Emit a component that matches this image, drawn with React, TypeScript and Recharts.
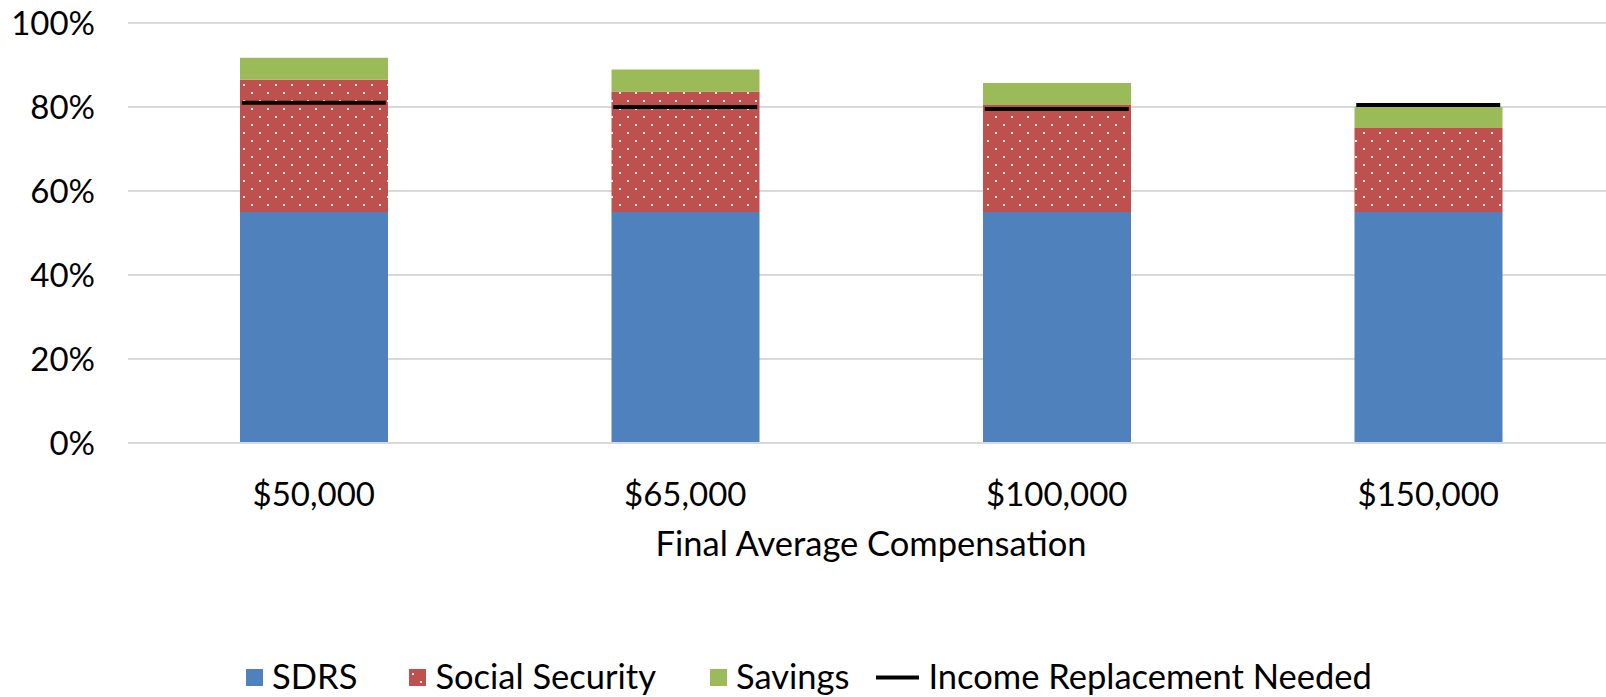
import React from 'react';
import { ComposedChart, Bar, Line, XAxis, YAxis, CartesianGrid, Legend } from 'recharts';

const categories = ['$50,000', '$65,000', '$100,000', '$150,000'];
const sdrs = [55, 55, 55, 55];
const socialSecurity = [31.5, 28.7, 25.5, 20];
const savings = [5.2, 5.2, 5.2, 5];
const replacementNeeded = [81, 80, 79.5, 80.5];
const yTicks = [0, 20, 40, 60, 80, 100];

const data = categories.map((name, i) => ({
  name,
  sdrs: sdrs[i],
  socialSecurity: socialSecurity[i],
  savings: savings[i],
  needed: replacementNeeded[i],
}));

const FONT = 'Lato, "Open Sans", sans-serif';
const BLUE = '#4F81BD';
const RED = '#C0504D';
const GREEN = '#9BBB59';

// short black segment drawn at each point, about as wide as the bar
function NeededMark(props: any) {
  const { cx, cy } = props;
  if (cx == null || cy == null) return null;
  return <line x1={cx - 72} x2={cx + 72} y1={cy} y2={cy} stroke="#000" strokeWidth={4} />;
}

function ChartLegend() {
  const item = (icon: React.ReactNode, label: string, gap: number) => (
    <div style={{ display: 'flex', alignItems: 'center', marginRight: gap }}>
      {icon}
      <span style={{ marginLeft: 9 }}>{label}</span>
    </div>
  );
  const square = (fill: string) => (
    <svg width={17} height={17} style={{ marginTop: 3 }}>
      <rect width={17} height={17} fill={fill} />
    </svg>
  );
  return (
    <div
      style={{
        display: 'flex',
        justifyContent: 'center',
        alignItems: 'flex-start',
        height: 42,
        paddingLeft: 12,
        boxSizing: 'border-box',
        fontFamily: FONT,
        fontSize: 34.5,
        lineHeight: '41px',
        color: '#000',
        whiteSpace: 'nowrap',
      }}
    >
      {item(square(BLUE), 'SDRS', 52)}
      {item(square('url(#ssDots)'), 'Social Security', 54)}
      {item(square(GREEN), 'Savings', 27)}
      {item(
        <svg width={43} height={17} style={{ marginTop: 3 }}>
          <line x1={0} x2={43} y1={8.5} y2={8.5} stroke="#000" strokeWidth={4} />
        </svg>,
        'Income Replacement Needed',
        0
      )}
    </div>
  );
}

export default function App() {
  return (
    <div style={{ position: 'absolute', left: 0, top: 0, width: 1606, height: 697, overflow: 'hidden', background: '#fff' }}>
      <ComposedChart
        width={1614}
        height={697}
        data={data}
        margin={{ top: 23, right: 0, bottom: 82, left: 0 }}
        style={{ fontFamily: FONT }}
      >
        <defs>
          <pattern id="ssDots" width={16} height={16} patternUnits="userSpaceOnUse">
            <rect width={16} height={16} fill={RED} />
            <rect x={3} y={4} width={2} height={2} fill="#fff" />
            <rect x={11} y={12} width={2} height={2} fill="#fff" />
          </pattern>
        </defs>
        <CartesianGrid vertical={false} stroke="#D9D9D9" strokeWidth={2} />
        <XAxis
          dataKey="name"
          height={130}
          axisLine={{ stroke: '#D9D9D9', strokeWidth: 2 }}
          tickLine={false}
          tickSize={0}
          tickMargin={40}
          tick={{ fill: '#000', fontSize: 33, fontFamily: FONT }}
          label={{
            value: 'Final Average Compensation',
            position: 'insideBottom',
            offset: 17,
            fill: '#000',
            fontSize: 34.5,
            fontFamily: FONT,
          }}
        />
        <YAxis
          width={128}
          domain={[0, 100]}
          ticks={yTicks}
          tickFormatter={(v: number) => `${v}%`}
          axisLine={false}
          tickLine={false}
          tickSize={0}
          tickMargin={33}
          tick={{ fill: '#000', fontSize: 33, fontFamily: FONT }}
        />
        <Bar dataKey="sdrs" name="SDRS" stackId="a" fill={BLUE} barSize={148} isAnimationActive={false} />
        <Bar dataKey="socialSecurity" name="Social Security" stackId="a" fill="url(#ssDots)" barSize={148} isAnimationActive={false} />
        <Bar dataKey="savings" name="Savings" stackId="a" fill={GREEN} barSize={148} isAnimationActive={false} />
        <Line
          dataKey="needed"
          name="Income Replacement Needed"
          stroke="none"
          dot={<NeededMark />}
          activeDot={false}
          isAnimationActive={false}
        />
        <Legend verticalAlign="bottom" wrapperStyle={{ left: 0, width: 1606, bottom: 0 }} content={<ChartLegend />} />
      </ComposedChart>
    </div>
  );
}
